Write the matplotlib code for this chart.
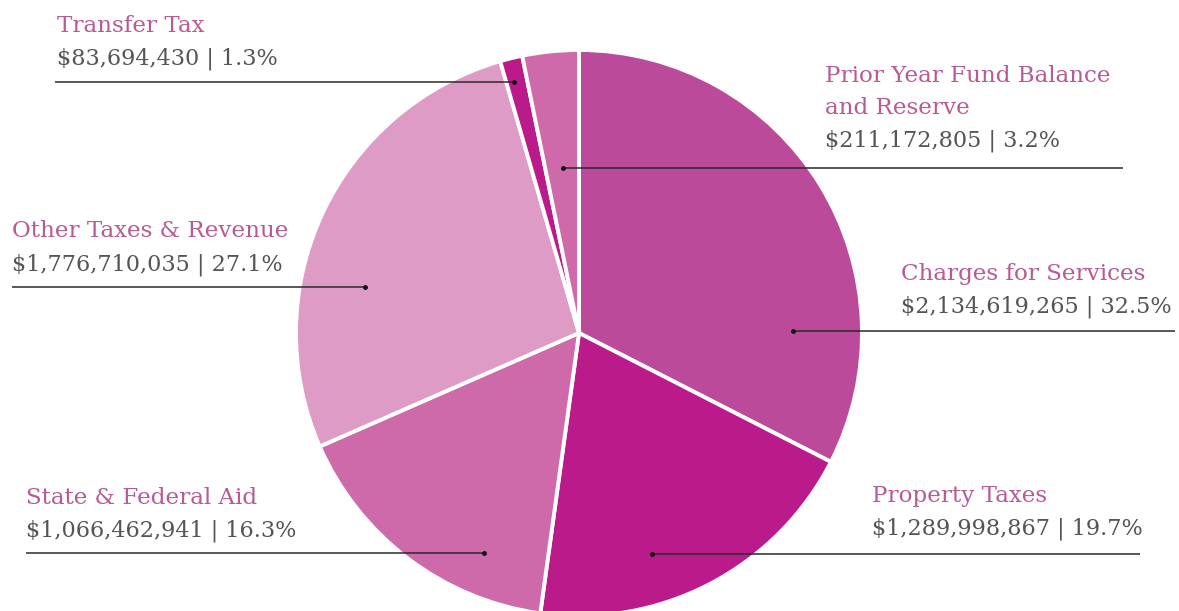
import matplotlib
matplotlib.use("Agg")
import matplotlib.pyplot as plt

# data
categories = ["Charges for Services", "Property Taxes", "State & Federal Aid",
              "Other Taxes & Revenue", "Transfer Tax", "Prior Year Fund Balance\nand Reserve"]
amounts = [2134619265, 1289998867, 1066462941, 1776710035, 83694430, 211172805]
percents = [32.5, 19.7, 16.3, 27.1, 1.3, 3.2]
colors = ["#BB4B9A", "#BB1A8B", "#CE6AA9", "#DE9BC5", "#BB1A8B", "#CE6AA9"]

W, H = 1179, 611
LABEL_COLOR = "#B85A94"
VALUE_COLOR = "#555555"
FONT = "DejaVu Serif"

# label layout in pixel coords: text x, title baseline y, line y, line x0, line x1, dot side
layout = [
    (901, 280, 331, 793, 1175, "left"),
    (872, 502, 554, 652, 1140, "left"),
    (26, 504, 553, 26, 484, "right"),
    (12, 237, 287, 12, 365, "right"),
    (57, 32, 82, 55, 514, "right"),
    (825, 82, 168, 563, 1123, "left"),
]

fig = plt.figure(figsize=(W / 100, H / 100), dpi=100)
ax = fig.add_axes([0, 0, 1, 1])

cx, cy, r = 579, H - 333, 283
ax.pie(amounts, colors=colors, startangle=90, counterclock=False,
       center=(cx, cy), radius=r, frame=True,
       wedgeprops=dict(edgecolor="white", linewidth=2.8))
ax.set_xlim(0, W)
ax.set_ylim(0, H)
ax.set_aspect("equal")
ax.axis("off")

def py(y):
    return H - y

for name, amt, pct, (tx, ty, ly, x0, x1, dot) in zip(categories, amounts, percents, layout):
    lines = name.split("\n")
    for i, ln in enumerate(lines):
        ax.text(tx, py(ty + i * 32), ln, color=LABEL_COLOR, fontsize=16.6,
                family=FONT, va="baseline", ha="left")
    vy = ty + (len(lines) - 1) * 32 + 33
    ax.text(tx, py(vy), f"${amt:,} | {pct}%", color=VALUE_COLOR, fontsize=16.1,
            family=FONT, va="baseline", ha="left")
    ax.plot([x0, x1], [py(ly), py(ly)], color="#2a2a2a", lw=1.1, solid_capstyle="butt")
    dx = x1 if dot == "right" else x0
    ax.plot(dx, py(ly), "o", color="#111111", ms=2.5)

fig.savefig("out.png", dpi=100)
